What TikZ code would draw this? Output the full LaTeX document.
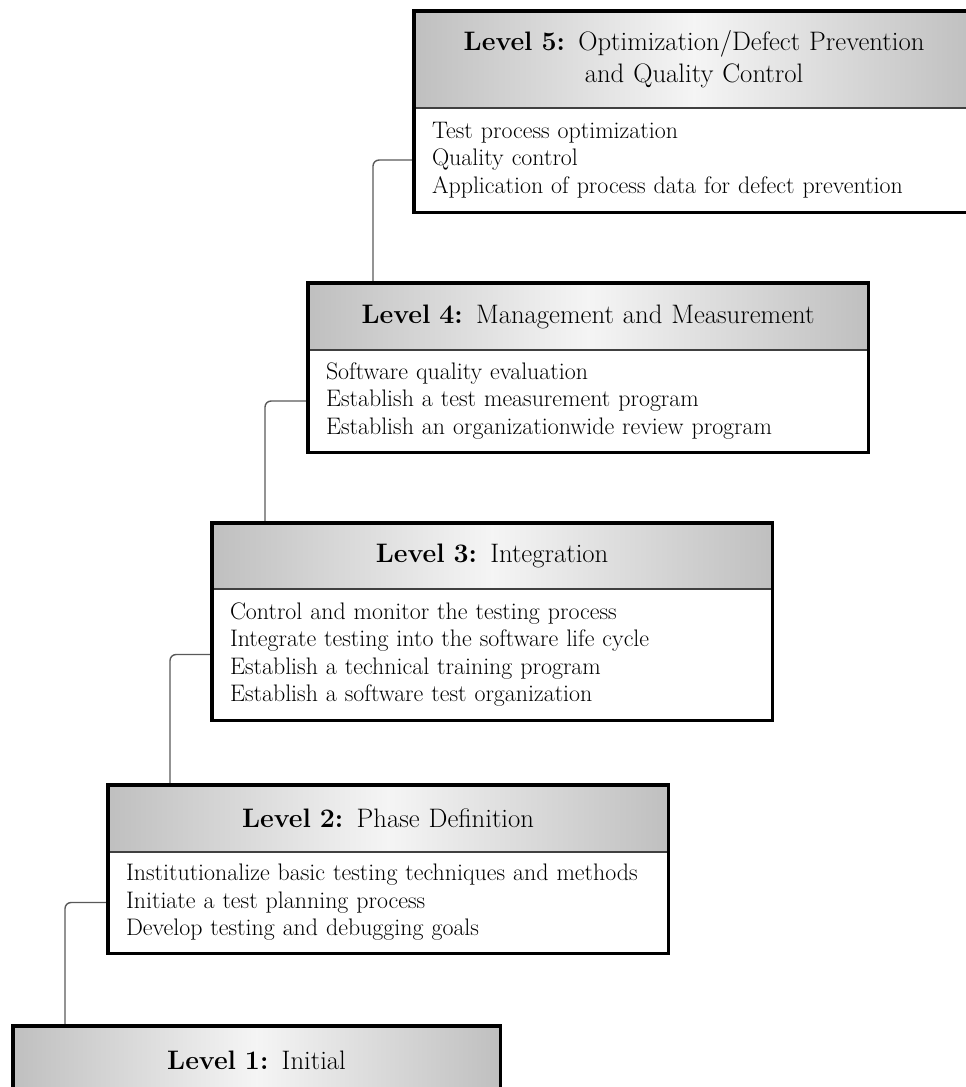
\documentclass[tikz,border=0pt]{standalone}
\usetikzlibrary{positioning}

\tikzset{
  hdr/.style={shape=rectangle, draw=black!75, line width=0.8pt, outer sep=0pt, anchor=north west,
    left color=black!25, right color=black!25, middle color=black!4,
    minimum width=14cm, text width=13.1cm, align=center, inner xsep=0.45cm,
    font=\fontsize{19}{23}\selectfont},
  body/.style={shape=rectangle, draw=black!75, line width=0.8pt, outer sep=0pt, fill=white,
    minimum width=14cm, text width=13.1cm, align=left, inner xsep=0.45cm,
    font=\fontsize{17}{19.5}\selectfont},
  frame/.style={draw=black, line width=2.2pt},
  conn/.style={draw=black!65, line width=1pt, rounded corners=0.15cm},
}

\begin{document}
\begin{tikzpicture}[x=0.025cm, y=-0.025cm]
	\clip (0,0) rectangle (966,1087);
	% create levels
	\node[hdr, minimum height=2.425cm] (L5h) at (414,11) {\textbf{Level 5:} Optimization/Defect Prevention\\and Quality Control};
	\node[body, minimum height=2.6cm, below right=0pt and 0pt of L5h.south west] (L5b) {Test process optimization\\Quality control\\Application of process data for defect prevention};

	\node[hdr, minimum height=1.675cm] (L4h) at (308,283) {\textbf{Level 4:} Management and Measurement};
	\node[body, minimum height=2.55cm, below right=0pt and 0pt of L4h.south west] (L4b) {Software quality evaluation\\Establish a test measurement program\\Establish an organizationwide review program};

	\node[hdr, minimum height=1.65cm] (L3h) at (212,523) {\textbf{Level 3:} Integration};
	\node[body, minimum height=3.275cm, below right=0pt and 0pt of L3h.south west] (L3b) {Control and monitor the testing process\\Integrate testing into the software life cycle\\Establish a technical training program\\Establish a software test organization};

	\node[hdr, minimum height=1.675cm] (L2h) at (108,785) {\textbf{Level 2:} Phase Definition};
	\node[body, minimum height=2.525cm, below right=0pt and 0pt of L2h.south west] (L2b) {Institutionalize basic testing techniques and methods\\Initiate a test planning process\\Develop testing and debugging goals};

	\node[hdr, minimum width=12.175cm, text width=11.275cm, minimum height=1.7cm] (L1h) at (13,1026) {\textbf{Level 1:} Initial};

	% steps between levels
	\draw[conn] ([xshift=1.625cm]L4h.north west) |- (L5b.west);
	\draw[conn] ([xshift=1.325cm]L3h.north west) |- (L4b.west);
	\draw[conn] ([xshift=1.55cm]L2h.north west) |- (L3b.west);
	\draw[conn] ([xshift=1.3cm]L1h.north west) |- (L2b.west);

	% outer frames
	\draw[frame] (L5h.north west) rectangle (L5b.south east);
	\draw[frame] (L4h.north west) rectangle (L4b.south east);
	\draw[frame] (L3h.north west) rectangle (L3b.south east);
	\draw[frame] (L2h.north west) rectangle (L2b.south east);
	\draw[frame] (L1h.north west) rectangle (L1h.south east);
\end{tikzpicture}
\end{document}
